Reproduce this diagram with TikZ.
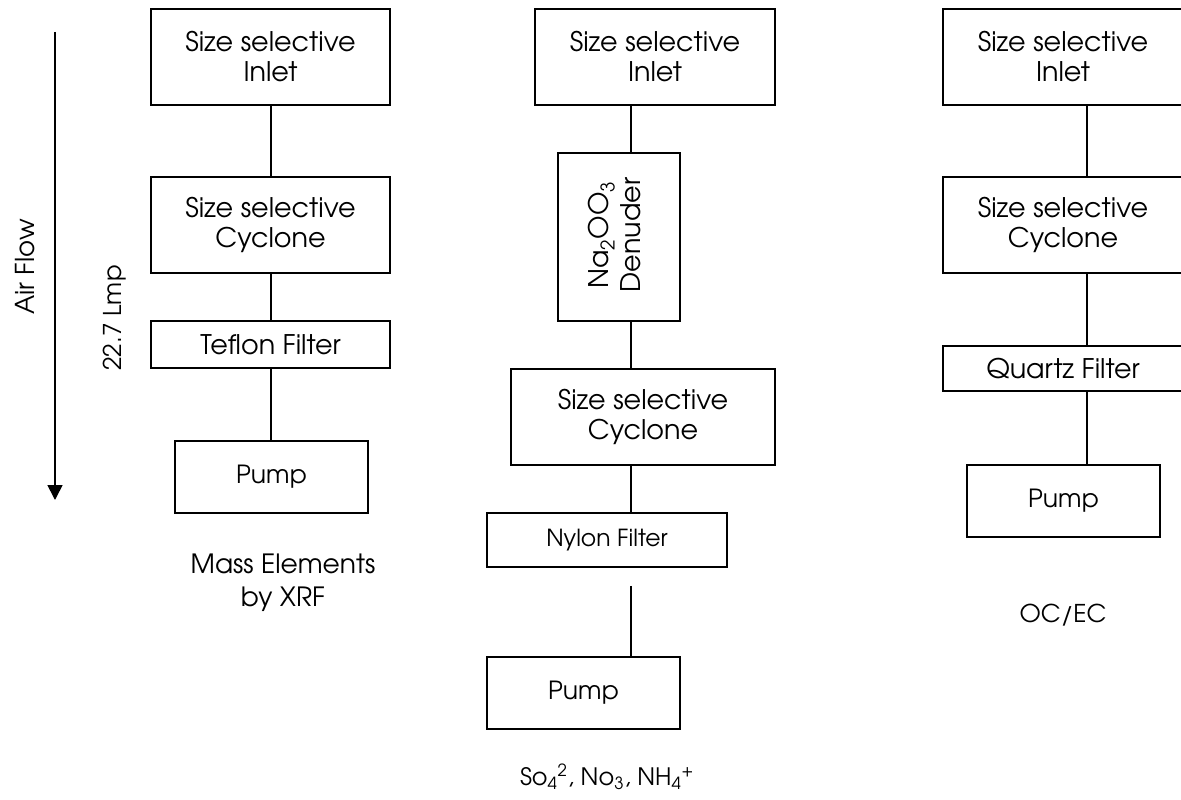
\documentclass[tikz,border=0pt]{standalone}
\usepackage{fontspec}
\setmainfont{texgyreadventor-regular.otf}
\usetikzlibrary{arrows.meta,calc}
\begin{document}
\begin{tikzpicture}[x=1pt,y=-1pt,
  box/.style={draw=black,line width=1.7pt,rectangle,inner sep=0pt,align=center,
    font=\fontsize{27}{30}\selectfont},
  conn/.style={draw=black,line width=1.7pt},
  lbl/.style={align=center,font=\fontsize{26.5}{33}\selectfont,inner sep=0pt}]
\useasboundingbox (0,0) rectangle (1181,800);
\begin{scope}
\clip (0,0) rectangle (1181,800);
% column 1
\coordinate (x1) at (271,0);
\node[box,minimum width=239pt,minimum height=96pt] (in1) at (270.5,57) {Size selective\\Inlet};
\node[box,minimum width=239pt,minimum height=96pt] (cy1) at (270.5,225) {Size selective\\Cyclone};
\node[box,minimum width=239pt,minimum height=47pt] (tf1) at (270.5,344.5) {Teflon Filter};
\node[box,minimum width=193pt,minimum height=72pt,font=\fontsize{25}{30}\selectfont] (pu1) at (271.5,477) {Pump};
\draw[conn] (in1.south -| x1) -- (cy1.north -| x1);
\draw[conn] (cy1.south -| x1) -- (tf1.north -| x1);
\draw[conn] (tf1.south -| x1) -- (pu1.north -| x1);
% column 2
\coordinate (x2) at (631,0);
\node[box,minimum width=240pt,minimum height=96pt] (in2) at (655,57) {Size selective\\Inlet};
\node[box,minimum width=122pt,minimum height=168pt] (de2) at (619,237) {};
\node[rotate=90,align=center,inner sep=0pt,font=\fontsize{27}{32}\selectfont] (de2t) at ($(de2.center)+(-4,-2)$) {Na\textsubscript{2}OO\textsubscript{3}\\Denuder};
\node[box,minimum width=264pt,minimum height=96pt] (cy2) at (643,417) {Size selective\\Cyclone};
\node[box,minimum width=240pt,minimum height=54pt,font=\fontsize{23.5}{26}\selectfont] (ny2) at (607,540) {Nylon Filter};
\node[box,minimum width=193pt,minimum height=72pt,font=\fontsize{25}{30}\selectfont] (pu2) at (583.5,693) {Pump};
\draw[conn] (in2.south -| x2) -- (de2.north -| x2);
\draw[conn] (de2.south -| x2) -- (cy2.north -| x2);
\draw[conn] (cy2.south -| x2) -- (ny2.north -| x2);
\draw[conn,shorten <=18pt] (ny2.south -| x2) -- (pu2.north -| x2);
% column 3
\coordinate (x3) at (1087,0);
\node[box,minimum width=240pt,minimum height=96pt] (in3) at (1063,57) {Size selective\\Inlet};
\node[box,minimum width=240pt,minimum height=96pt] (cy3) at (1063,225) {Size selective\\Cyclone};
\node[box,minimum width=240pt,minimum height=45pt] (qf3) at (1063,368.5) {Quartz Filter};
\node[box,minimum width=193pt,minimum height=72pt,font=\fontsize{25}{30}\selectfont] (pu3) at (1063.5,501) {Pump};
\draw[conn] (in3.south -| x3) -- (cy3.north -| x3);
\draw[conn] (cy3.south -| x3) -- (qf3.north -| x3);
\draw[conn] (qf3.south -| x3) -- (pu3.north -| x3);
\end{scope}
% labels
\node[lbl] (l1) at (283,583) {Mass Elements\\by XRF};
\node[lbl,font=\fontsize{24.5}{30}\selectfont] (l3) at (1063,615) {OC/EC};
\node[lbl,font=\fontsize{24}{30}\selectfont] (l2) at (607,777) {So\textsubscript{4}\textsuperscript{2}, No\textsubscript{3}, NH\textsubscript{4}\textsuperscript{+}};
% air flow
\coordinate (af0) at (55,32);
\coordinate (af1) at (55,500);
\draw[line width=1.7pt,-{Triangle[length=15pt,width=15pt]}] (af0) -- (af1);
\node[lbl,rotate=90,font=\fontsize{26}{30}\selectfont] (air) at (25,267) {Air Flow};
\node[lbl,rotate=90,font=\fontsize{24.5}{26}\selectfont] (rate) at (115,318) {22.7 Lmp};
\end{tikzpicture}
\end{document}
